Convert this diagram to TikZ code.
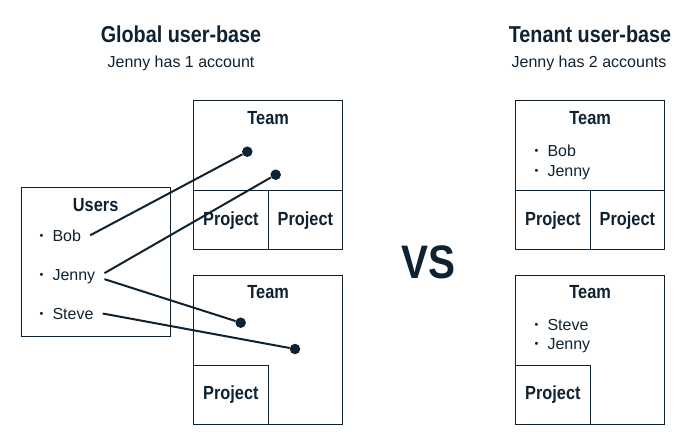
\documentclass[tikz,border=0pt]{standalone}
\usepackage{fontspec}
\setmainfont{Liberation Sans}
\newfontfamily\condfont[FakeStretch=0.86]{Liberation Sans}
\usetikzlibrary{positioning}
\definecolor{ink}{HTML}{0F2231}
\newcommand\bul{\raisebox{2pt}{\fontsize{11}{11}\selectfont\textbullet}\hspace{9pt}}

\begin{document}
\begin{tikzpicture}[x=1pt,y=-1pt,
  box/.style={draw=ink,line width=1.3pt,inner sep=0pt,minimum size=149pt,anchor=north west},
  cell/.style={draw=ink,line width=1.3pt,inner sep=0pt,minimum width=74.5pt,minimum height=59pt,text=ink,font=\condfont\bfseries\fontsize{19}{22}\selectfont},
  ttl/.style={text=ink,font=\condfont\bfseries\fontsize{23}{26}\selectfont},
  sub/.style={text=ink,font=\fontsize{16}{19}\selectfont},
  hd/.style={text=ink,font=\condfont\bfseries\fontsize{19}{22}\selectfont,inner sep=0pt,anchor=north},
  item/.style={text=ink,font=\fontsize{16}{19}\selectfont,anchor=base west,inner xsep=9pt},
  pin/.style={circle,fill=ink,inner sep=0pt,minimum size=10.5pt},
  link/.style={draw=ink,line width=2pt}]
\useasboundingbox (0,0) rectangle (693,444);

\node[ttl] (gtitle) at (181,34) {Global user-base};
\node[sub] (gsub) at (181,63) {Jenny has 1 account};
\node[ttl] (ttitle) at (590,34) {Tenant user-base};
\node[sub] (tsub) at (589,63) {Jenny has 2 accounts};

\node[box] (users) at (20.5,187) {};
\node[hd,below=11pt of users.north] (userslbl) {Users};
\node[item] (bob) at (30.5,241) {\bul Bob};
\node[item] (jenny) at (30.5,280) {\bul Jenny};
\node[item] (steve) at (30.5,319) {\bul Steve};

\node[box] (teamA) at (193,100) {};
\node[hd,below=11pt of teamA.north] (teamAlbl) {Team};
\node[cell,anchor=south west] (projA1) at (teamA.south west) {Project};
\node[cell,anchor=south east] (projA2) at (teamA.south east) {Project};

\node[box] (teamB) at (193,274.5) {};
\node[hd,below=11pt of teamB.north] (teamBlbl) {Team};
\node[cell,anchor=south west] (projB1) at (teamB.south west) {Project};

\node[pin] (d1) at (247.3,151.7) {};
\node[pin] (d2) at (275.7,174.7) {};
\node[pin] (d3) at (240.7,322.7) {};
\node[pin] (d4) at (295,349) {};
\draw[link] (bob.east) -- (d1);
\draw[link] ([yshift=3pt]jenny.east) -- (d2);
\draw[link] ([yshift=-3pt]jenny.east) -- (d3);
\draw[link] (steve.east) -- (d4);

\node[text=ink,font=\condfont\bfseries\fontsize{47}{50}\selectfont] (vs) at (428.5,262) {VS};

\node[box] (teamC) at (515,100) {};
\node[hd,below=11pt of teamC.north] (teamClbl) {Team};
\node[item] (bobC) at (525.5,156) {\bul Bob};
\node[item] (jennyC) at (525.5,176) {\bul Jenny};
\node[cell,anchor=south west] (projC1) at (teamC.south west) {Project};
\node[cell,anchor=south east] (projC2) at (teamC.south east) {Project};

\node[box] (teamD) at (515,274.5) {};
\node[hd,below=11pt of teamD.north] (teamDlbl) {Team};
\node[item] (steveD) at (525.5,330) {\bul Steve};
\node[item] (jennyD) at (525.5,349) {\bul Jenny};
\node[cell,anchor=south west] (projD1) at (teamD.south west) {Project};
\end{tikzpicture}
\end{document}
